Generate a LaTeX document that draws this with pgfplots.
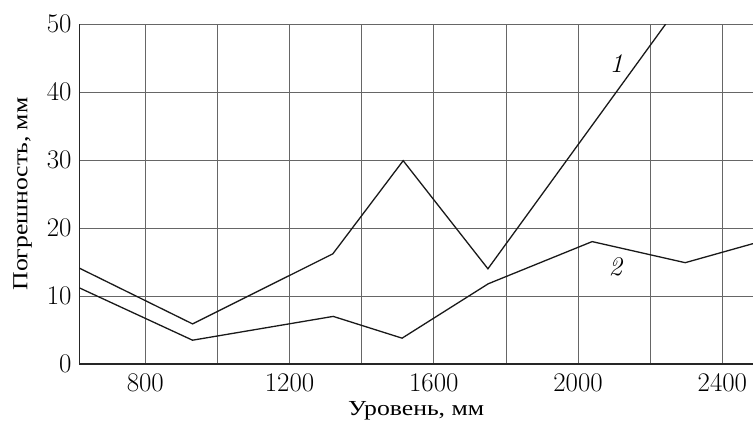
\documentclass[border=0pt]{standalone}
\usepackage{pgfplots}
\pgfplotsset{compat=1.18}
\usepackage{fontspec}
\newfontfamily\cyr[FakeStretch=1.2]{Liberation Serif}
\begin{document}
\begin{tikzpicture}
\useasboundingbox (-79.3bp,-59bp) rectangle (673.7bp,364bp);
\begin{axis}[
  at={(0,0)}, anchor=south west,
  scale only axis,
  width=673.7bp, height=340bp,
  xmin=617, xmax=2485,
  ymin=0, ymax=50,
  xtick={800,1200,1600,2000,2400},
  minor xtick={1000,1400,1800,2200},
  ytick={0,10,20,30,40,50},
  major tick length=0pt, minor tick length=0pt,
  grid=both,
  major grid style={draw=black!60, line width=0.9bp},
  minor grid style={draw=black!60, line width=0.9bp},
  axis x line=bottom, axis y line=left,
  axis line style={-, draw=black!85, line width=1.1bp},
  /pgf/number format/assume math mode=true,
  tick label style={font=\fontsize{27}{32}\selectfont},
  xticklabel style={anchor=base, yshift=-27.7bp},
  yticklabel style={anchor=east, inner xsep=0pt, xshift=-7.6bp},
  scaled x ticks=false,
  xticklabel={\pgfmathprintnumber[1000 sep={}]{\tick}},
  xlabel={\cyr Уровень, мм},
  ylabel={\cyr Погрешность, мм},
  label style={font=\fontsize{21.5}{26}\selectfont},
  xlabel style={at={(axis description cs:0.5,0)}, anchor=base, yshift=-51bp},
  ylabel style={at={(axis description cs:0,0.5)}, anchor=base, yshift=52bp},
  clip=true,
]
\addplot[black!90, line width=1.3bp, mark=none] coordinates {
  (617,14.1) (931,5.9) (1320,16.2) (1515,29.9) (1750,14.0) (2243,50.0)
};
\addplot[black!90, line width=1.3bp, mark=none] coordinates {
  (617,11.2) (931,3.5) (1321,7.0) (1512,3.8) (1751,11.8) (2039,18.0) (2297,14.9) (2485,17.7)
};
\node[font=\fontsize{27}{32}\selectfont\itshape] at (axis cs:2106,44.2) {1};
\node[font=\fontsize{27}{32}\selectfont\itshape] at (axis cs:2103,14.3) {2};
\end{axis}
\end{tikzpicture}
\end{document}
